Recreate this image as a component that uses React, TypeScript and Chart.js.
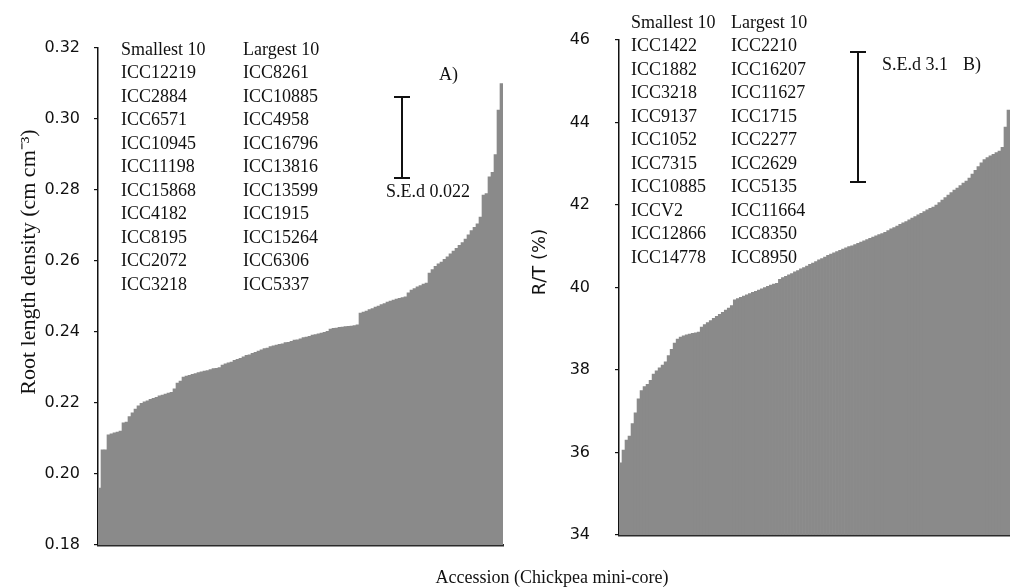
import React, { useEffect, useRef } from "react";
import { Chart, registerables } from "chart.js";

Chart.register(...registerables);

// Panel A: root length density (cm cm-3), accessions sorted ascending
const rldValues = [
  0.196, 0.2068, 0.2068, 0.211, 0.2113, 0.2116, 0.2118, 0.2121, 0.2144, 0.2146,
  0.2162, 0.2172, 0.2183, 0.2192, 0.2199, 0.2203, 0.2206, 0.221, 0.2213, 0.2216,
  0.222, 0.2222, 0.2225, 0.2228, 0.223, 0.224, 0.2256, 0.2262, 0.2273, 0.2276,
  0.2278, 0.2281, 0.2283, 0.2286, 0.2288, 0.229, 0.2291, 0.2294, 0.2297, 0.2298,
  0.23, 0.2307, 0.231, 0.2313, 0.2315, 0.232, 0.2323, 0.2326, 0.233, 0.2334,
  0.2336, 0.234, 0.2343, 0.2346, 0.235, 0.2353, 0.2355, 0.2359, 0.2361, 0.2363,
  0.2365, 0.2367, 0.237, 0.2371, 0.2374, 0.2377, 0.2378, 0.2381, 0.2384, 0.2386,
  0.2388, 0.2391, 0.2393, 0.2395, 0.2397, 0.2399, 0.2402, 0.2408, 0.241, 0.2411,
  0.2413, 0.2414, 0.2415, 0.2416, 0.2417, 0.2418, 0.242, 0.2453, 0.2456, 0.2459,
  0.2463, 0.2466, 0.247, 0.2473, 0.2477, 0.248, 0.2484, 0.2487, 0.249, 0.2493,
  0.2495, 0.2497, 0.2499, 0.251, 0.2518, 0.2522, 0.2527, 0.2531, 0.2535, 0.2538,
  0.2566, 0.2576, 0.2585, 0.2592, 0.2597, 0.2605, 0.2612, 0.262, 0.2628, 0.2636,
  0.2644, 0.2652, 0.2662, 0.2674, 0.2686, 0.2695, 0.2705, 0.2724, 0.2786, 0.279,
  0.2837, 0.285, 0.29, 0.3025, 0.31,
];

// Panel B: R/T (%), accessions sorted ascending
const rtValues = [
  35.75, 36.06, 36.3, 36.4, 36.7, 36.96, 37.3, 37.5, 37.6, 37.65,
  37.75, 37.9, 37.98, 38.05, 38.12, 38.2, 38.35, 38.5, 38.65, 38.75,
  38.8, 38.83, 38.85, 38.87, 38.89, 38.9, 38.92, 39.04, 39.1, 39.15,
  39.2, 39.25, 39.3, 39.35, 39.4, 39.45, 39.5, 39.56, 39.7, 39.73,
  39.76, 39.79, 39.82, 39.85, 39.88, 39.91, 39.94, 39.97, 40.0, 40.03,
  40.06, 40.08, 40.1, 40.2, 40.24, 40.27, 40.31, 40.34, 40.38, 40.41,
  40.45, 40.48, 40.52, 40.56, 40.59, 40.63, 40.67, 40.7, 40.74, 40.78,
  40.81, 40.84, 40.87, 40.9, 40.93, 40.96, 40.99, 41.01, 41.04, 41.07,
  41.1, 41.13, 41.16, 41.19, 41.22, 41.25, 41.28, 41.31, 41.34, 41.38,
  41.42, 41.45, 41.49, 41.53, 41.57, 41.6, 41.64, 41.68, 41.72, 41.76,
  41.8, 41.84, 41.88, 41.92, 41.95, 42.0, 42.06, 42.12, 42.18, 42.24,
  42.3, 42.36, 42.41, 42.47, 42.53, 42.58, 42.65, 42.75, 42.84, 42.93,
  43.02, 43.1, 43.15, 43.19, 43.23, 43.27, 43.31, 43.4, 43.89, 44.3,
];

const rldAxis = [0.18, 0.32, 0.02]; // min, max, step
const rtAxis = [34, 46, 2];

const smallestA = ["ICC12219", "ICC2884", "ICC6571", "ICC10945", "ICC11198", "ICC15868", "ICC4182", "ICC8195", "ICC2072", "ICC3218"];
const largestA = ["ICC8261", "ICC10885", "ICC4958", "ICC16796", "ICC13816", "ICC13599", "ICC1915", "ICC15264", "ICC6306", "ICC5337"];
const smallestB = ["ICC1422", "ICC1882", "ICC3218", "ICC9137", "ICC1052", "ICC7315", "ICC10885", "ICCV2", "ICC12866", "ICC14778"];
const largestB = ["ICC2210", "ICC16207", "ICC11627", "ICC1715", "ICC2277", "ICC2629", "ICC5135", "ICC11664", "ICC8350", "ICC8950"];

const seBarA = [0.2834, 0.3062];
const seBarB = [42.56, 45.71];

const SERIF = '"Liberation Serif", "Times New Roman", serif';
const SANS = '"DejaVu Sans", Verdana, sans-serif';
const BAR = "#8a8a8a";
const INK = "#111111";

function drawSE(ctx: CanvasRenderingContext2D, chart: any, x: number, vals: number[], cap: number) {
  const y = chart.scales.y;
  const y1 = y.getPixelForValue(vals[0]);
  const y2 = y.getPixelForValue(vals[1]);
  ctx.save();
  ctx.strokeStyle = INK;
  ctx.lineWidth = 2;
  ctx.beginPath();
  ctx.moveTo(x, y1);
  ctx.lineTo(x, y2);
  ctx.moveTo(x - cap, y1);
  ctx.lineTo(x + cap, y1);
  ctx.moveTo(x - cap, y2);
  ctx.lineTo(x + cap, y2);
  ctx.stroke();
  ctx.restore();
}

const annotA = {
  id: "annotA",
  afterDraw(chart: any) {
    const ctx = chart.ctx as CanvasRenderingContext2D;
    ctx.save();
    ctx.fillStyle = INK;
    ctx.font = `18px ${SERIF}`;
    ctx.textBaseline = "middle";
    ctx.textAlign = "left";
    ctx.fillText("Smallest 10", 121, 50);
    ctx.fillText("Largest 10", 243, 50);
    smallestA.forEach((s, i) => ctx.fillText(s, 121, 73.5 + i * 23.5));
    largestA.forEach((s, i) => ctx.fillText(s, 243, 73.5 + i * 23.5));
    ctx.fillText("A)", 439, 75);
    ctx.fillText("S.E.d 0.022", 386, 192);
    // y title
    ctx.save();
    ctx.translate(29, 262);
    ctx.rotate(-Math.PI / 2);
    ctx.textAlign = "center";
    ctx.font = `22px ${SERIF}`;
    ctx.fillText("Root length density (cm cm\u207B\u00B3)", 0, 0);
    ctx.restore();
    ctx.restore();
    drawSE(ctx, chart, 402, seBarA, 8);
  },
};

const annotB = {
  id: "annotB",
  afterDraw(chart: any) {
    const ctx = chart.ctx as CanvasRenderingContext2D;
    ctx.save();
    ctx.fillStyle = INK;
    ctx.font = `18px ${SERIF}`;
    ctx.textBaseline = "middle";
    ctx.textAlign = "left";
    ctx.fillText("Smallest 10", 631, 23);
    ctx.fillText("Largest 10", 731, 23);
    smallestB.forEach((s, i) => ctx.fillText(s, 631, 46.5 + i * 23.5));
    largestB.forEach((s, i) => ctx.fillText(s, 731, 46.5 + i * 23.5));
    ctx.fillText("S.E.d 3.1", 882, 65);
    ctx.fillText("B)", 963, 65);
    // x title
    ctx.textAlign = "center";
    ctx.fillText("Accession (Chickpea mini-core)", 552, 578);
    // y title
    ctx.save();
    ctx.translate(540, 262);
    ctx.rotate(-Math.PI / 2);
    ctx.font = `18px ${SANS}`;
    ctx.fillText("R/T (%)", 0, 0);
    ctx.restore();
    ctx.restore();
    drawSE(ctx, chart, 858, seBarB, 8);
  },
};

function makeConfig(values: number[], axis: number[], pad: any, axisWidth: number, tickPad: number, decimals: number, plugin: any) {
  return {
    type: "bar" as const,
    data: {
      labels: values.map((_, i) => String(i + 1)),
      datasets: [
        {
          data: values,
          backgroundColor: BAR,
          borderWidth: 0,
          categoryPercentage: 1,
          barPercentage: 1,
        },
      ],
    },
    options: {
      responsive: false,
      animation: false as const,
      events: [],
      layout: { padding: pad },
      plugins: { legend: { display: false }, tooltip: { enabled: false } },
      scales: {
        x: {
          display: true,
          ticks: { display: false },
          grid: { display: false, drawTicks: false },
          border: { display: true, color: "#2a2a2a", width: 2.5 },
          afterFit: (s: any) => {
            s.height = 0;
          },
        },
        y: {
          min: axis[0],
          max: axis[1],
          ticks: {
            stepSize: axis[2],
            callback: (v: any) => Number(v).toFixed(decimals),
            font: { family: SANS, size: 16 },
            color: INK,
            padding: tickPad,
          },
          grid: { drawOnChartArea: false, drawTicks: true, tickLength: 4, color: INK, lineWidth: 1.2 },
          border: { display: true, color: INK, width: 1.5 },
          afterFit: (s: any) => {
            s.width = axisWidth;
          },
        },
      },
    },
    plugins: [plugin],
  };
}

export default function App() {
  const refA = useRef<HTMLCanvasElement>(null);
  const refB = useRef<HTMLCanvasElement>(null);

  useEffect(() => {
    const a = new Chart(
      refA.current!,
      makeConfig(rldValues, rldAxis, { left: 0, top: 48, right: 507, bottom: 42 }, 98, 14, 2, annotA) as any
    );
    const b = new Chart(
      refB.current!,
      makeConfig(rtValues, rtAxis, { left: 0, top: 40, right: 0, bottom: 52 }, 619, 25, 0, annotB) as any
    );
    return () => {
      a.destroy();
      b.destroy();
    };
  }, []);

  const cv: React.CSSProperties = { position: "absolute", left: 0, top: 0, width: 1010, height: 587 };
  return (
    <div style={{ position: "fixed", left: 0, top: 0, width: 1010, height: 587, background: "#fff", overflow: "hidden" }}>
      <canvas ref={refA} width={1010} height={587} style={cv} />
      <canvas ref={refB} width={1010} height={587} style={{ ...cv, pointerEvents: "none" }} />
    </div>
  );
}
